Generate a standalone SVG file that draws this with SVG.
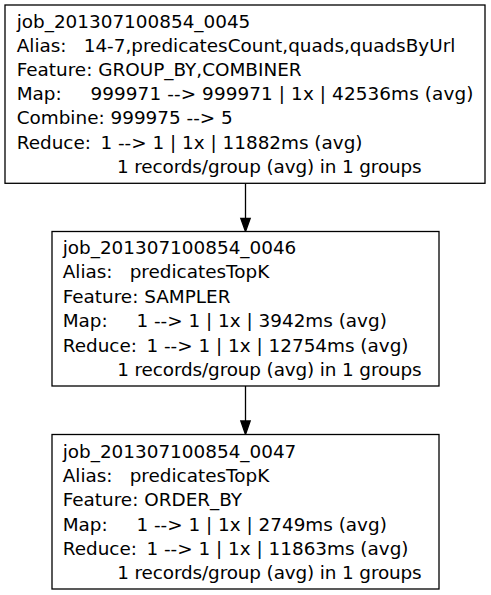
<svg xmlns="http://www.w3.org/2000/svg" width="491" height="595" viewBox="0 0 491 595">
  <style>
    .box { fill: #ffffff; stroke: #000000; stroke-width: 1.3; }
    .edge { stroke: #000000; stroke-width: 1.3; fill: none; }
    .head { fill: #000000; stroke: #000000; stroke-width: 1.3; }
    text { font-family: "DejaVu Sans", "Liberation Sans", sans-serif; font-size: 18.4px; fill: #000000; }
  </style>
  <rect width="491" height="595" fill="#ffffff"/>

  <!-- connectors between the job nodes -->
  <g id="edges">
    <path class="edge" d="M245.5,183.5 V218.5"/>
    <polygon class="head" points="240.8,218.5 250.2,218.5 245.5,231.5"/>
    <path class="edge" d="M245.5,386 V421"/>
    <polygon class="head" points="240.8,421 250.2,421 245.5,434.5"/>
  </g>

  <!-- job 0045 -->
  <g id="job_201307100854_0045">
    <rect class="box" x="5" y="5" width="480" height="178.3"/>
    <text x="16.7" y="27.5">job_201307100854_0045</text>
    <text x="16.7" y="51.7">Alias:</text>
    <text x="83.7" y="51.7">14-7,predicatesCount,quads,quadsByUrl</text>
    <text x="16.7" y="75.9">Feature: GROUP_BY,COMBINER</text>
    <text x="16.7" y="100.1">Map:</text>
    <text x="90.4" y="100.1" textLength="383" lengthAdjust="spacing">999971 --&gt; 999971 | 1x | 42536ms (avg)</text>
    <text x="16.7" y="124.3">Combine: 999975 --&gt; 5</text>
    <text x="16.7" y="148.5">Reduce:</text>
    <text x="100.4" y="148.5">1 --&gt; 1 | 1x | 11882ms (avg)</text>
    <text x="117" y="172.7" textLength="304.7" lengthAdjust="spacing">1 records/group (avg) in 1 groups</text>
  </g>

  <!-- job 0046 -->
  <g id="job_201307100854_0046">
    <rect class="box" x="52" y="231.5" width="387" height="154.5"/>
    <text x="62.7" y="254">job_201307100854_0046</text>
    <text x="62.7" y="278.4">Alias:</text>
    <text x="129.7" y="278.4">predicatesTopK</text>
    <text x="62.7" y="302.8">Feature: SAMPLER</text>
    <text x="62.7" y="327.2">Map:</text>
    <text x="136.4" y="327.2">1 --&gt; 1 | 1x | 3942ms (avg)</text>
    <text x="62.7" y="351.6">Reduce:</text>
    <text x="146.4" y="351.6">1 --&gt; 1 | 1x | 12754ms (avg)</text>
    <text x="117.3" y="376" textLength="304.4" lengthAdjust="spacing">1 records/group (avg) in 1 groups</text>
  </g>

  <!-- job 0047 -->
  <g id="job_201307100854_0047">
    <rect class="box" x="52" y="434.5" width="387" height="154.5"/>
    <text x="62.7" y="457.5">job_201307100854_0047</text>
    <text x="62.7" y="481.9">Alias:</text>
    <text x="129.7" y="481.9">predicatesTopK</text>
    <text x="62.7" y="506.2">Feature: ORDER_BY</text>
    <text x="62.7" y="530.6">Map:</text>
    <text x="136.4" y="530.6">1 --&gt; 1 | 1x | 2749ms (avg)</text>
    <text x="62.7" y="554.9">Reduce:</text>
    <text x="146.4" y="554.9">1 --&gt; 1 | 1x | 11863ms (avg)</text>
    <text x="117.3" y="579.3" textLength="304.4" lengthAdjust="spacing">1 records/group (avg) in 1 groups</text>
  </g>
</svg>
